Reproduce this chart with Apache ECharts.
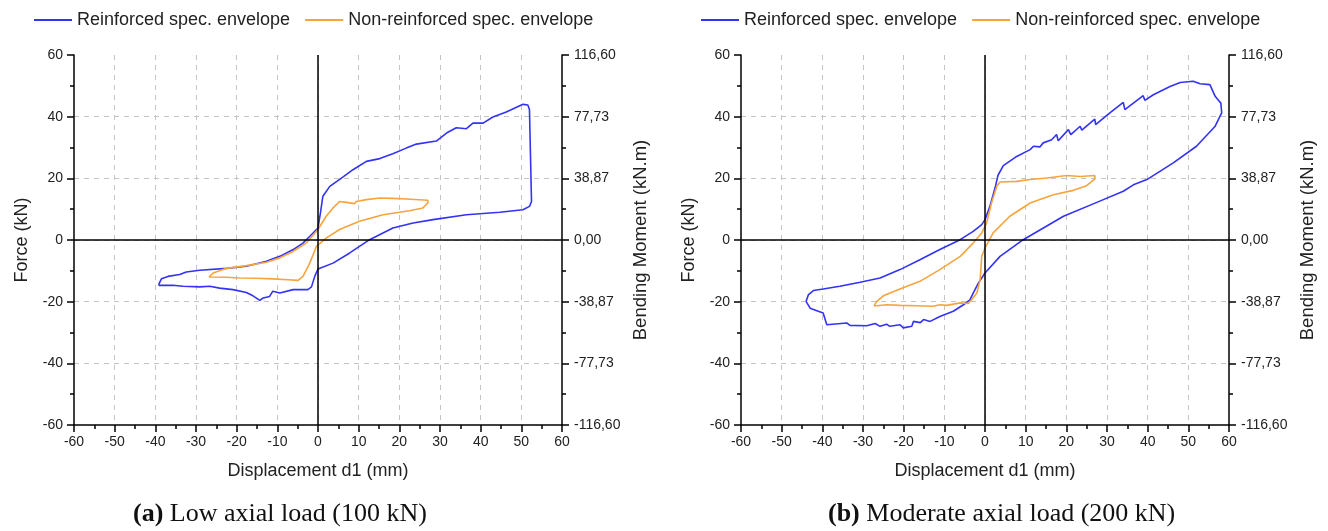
<!DOCTYPE html>
<html>
<head>
<meta charset="utf-8">
<script src="https://cdn.jsdelivr.net/npm/echarts@6/dist/echarts.min.js"></script>
<style>html,body{margin:0;padding:0;background:#fff}#c{width:1328px;height:531px}</style>
</head>
<body>
<div id="c"></div>
<script>
// ---- data (displacement mm, force kN) ----
const seriesNames = ['Reinforced spec. envelope', 'Non-reinforced spec. envelope'];
const xTicks = [-60, -50, -40, -30, -20, -10, 0, 10, 20, 30, 40, 50, 60];
const forceTicks = [-60, -40, -20, 0, 20, 40, 60];
const momentLabels = ['-116,60', '-77,73', '-38,87', '0,00', '38,87', '77,73', '116,60'];
const captions = [['(a)', ' Low axial load (100 kN)'], ['(b)', ' Moderate axial load (200 kN)']];

const lowReinforced = [[-39.1,-14.2],[-38.5,-12.6],[-36.9,-11.8],[-34,-11.2],[-32.4,-10.4],[-29.1,-9.8],[-22.5,-9.2],[-17.6,-8.5],[-12.7,-6.9],[-9.4,-5.3],[-6.1,-3.1],[-3.7,-1.0],[-2.0,1.2],[0,3.9],[0.6,8.8],[1.2,14.2],[2.9,17.4],[6.1,20.4],[8.6,22.8],[11.9,25.5],[15.2,26.4],[18.4,28],[21.7,29.8],[24.2,31.1],[29.1,32.1],[31.6,34.7],[34,36.4],[36.5,36.1],[38.1,37.9],[40.6,37.9],[43,39.9],[46.3,41.5],[50.4,44],[51.6,43.8],[52,42.3],[52.2,30.4],[52.5,12.5],[52,10.9],[50.4,9.8],[44.7,9.0],[36.5,8.2],[28.3,6.6],[23.4,5.5],[18.4,3.9],[12.7,0.1],[7.8,-4.2],[3.7,-7.5],[0,-9.4],[-0.8,-11.8],[-1.6,-15.2],[-2.5,-16.1],[-2.9,-15.9],[-6.1,-16.1],[-9.4,-17.2],[-11.1,-16.6],[-11.9,-18.3],[-13.5,-18.8],[-14.3,-19.6],[-16,-18.1],[-17.6,-17],[-20.9,-16.1],[-24.2,-15.6],[-26.6,-15],[-29.1,-15.2],[-33.2,-15],[-35.7,-14.7],[-39.1,-14.7],[-39.1,-14.2]];

const lowNonReinforced = [[-26.8,-12.0],[-25.8,-10.7],[-22.5,-9.2],[-17.6,-8.3],[-12.7,-7.2],[-9.4,-5.8],[-6.1,-3.7],[-2.9,-1],[0,3.4],[2,7.7],[3.7,10.4],[5.3,12.5],[7,12.2],[9,11.8],[9.4,12.5],[11.9,13.1],[15.2,13.6],[18.4,13.5],[21.7,13.3],[27,12.9],[27,12],[25.8,10.4],[22.5,9.5],[16,8.2],[10.2,6.1],[5.3,3.4],[2,0.6],[-0.4,-2.1],[-1.2,-4.8],[-2.2,-8],[-3.7,-11.8],[-4.9,-13.1],[-7.4,-12.9],[-11.1,-12.6],[-15.2,-12.4],[-19.3,-12.3],[-22.5,-12.1],[-26.8,-12.0]];

const modReinforced = [[-44,-19.9],[-43.4,-17.7],[-42.2,-16.4],[-39.8,-15.9],[-35.7,-15],[-30.7,-13.7],[-25.8,-12.3],[-20.9,-9.6],[-16,-6.4],[-11.1,-3.1],[-6.1,0.1],[-2.9,2.8],[-0.8,5],[0,6.6],[1.2,10.9],[2.5,17],[3.2,21],[4.5,24.1],[7.8,27.1],[11.1,29.3],[11.9,30.4],[13.5,30.2],[14.3,31.5],[16.4,32.5],[17.6,34.2],[18,32.2],[20.5,35.8],[21.1,34.2],[23.4,36.9],[23.8,35.6],[27,39.2],[27.2,37.4],[30.7,41.2],[34,44.6],[34.4,42.3],[38.9,46.8],[39.3,45.3],[41.4,47.1],[45.5,49.8],[48,51.1],[51.2,51.5],[52.9,50.7],[55.3,50.4],[56.6,46.6],[57.4,45.3],[58,44.4],[58.2,41.2],[56.6,36.9],[52,30.4],[46.3,25],[39.8,19.6],[36.5,17.9],[34,15.8],[27.5,12.2],[19.3,7.7],[9.4,0.1],[3.7,-5.3],[0,-10.7],[-1.6,-13.9],[-2.9,-17.2],[-3.7,-19.4],[-5.3,-21],[-7.8,-23.1],[-11.1,-24.8],[-13.5,-26.4],[-15.1,-25.8],[-15.9,-26.8],[-17.6,-26.4],[-18,-28],[-20.1,-28.5],[-20.9,-27.5],[-23.4,-28],[-24.2,-27.3],[-25.8,-28],[-27,-27.1],[-29.1,-27.8],[-33.2,-27.7],[-34,-26.9],[-38.9,-27.5],[-39.8,-23.7],[-41,-23.1],[-43,-22.1],[-44,-19.9]];

const modNonReinforced = [[-27.3,-21.3],[-26.6,-19.9],[-25,-18.1],[-20.9,-15.9],[-16,-13.4],[-11.1,-9.6],[-6.1,-5.3],[-2.9,-1],[-0.8,2.3],[0.4,5.5],[1.6,12],[2.9,17.4],[3.7,18.8],[4.1,19],[7.8,19],[8.2,18.7],[11.1,19.6],[15.2,20.1],[20.1,20.9],[23.4,20.6],[27,20.9],[27,19.8],[25,17.6],[21.7,16.1],[16.8,14.7],[11.1,12],[6.1,7.7],[2,2.3],[0,-2.6],[-0.8,-5.3],[-1.2,-12.9],[-2,-17.2],[-3.3,-19.4],[-4.1,-20.6],[-6.1,-20.4],[-9.4,-21.2],[-11.1,-21],[-12.7,-21.5],[-16.8,-21.3],[-20.9,-21.2],[-24.2,-21],[-26.6,-21.3],[-27.3,-21.3]];

// ---- styling / layout ----
const BLUE = '#3333f5', ORANGE = '#f7a43c';
const SANS = 'Liberation Sans, Arial, sans-serif';
const SERIF = 'Liberation Serif, Times New Roman, serif';
const grids = [{left: 74, top: 55, width: 488, height: 370}, {left: 741, top: 55, width: 488, height: 370}];

function xAxisFor(i) {
  return {
    type: 'value', gridIndex: i, min: xTicks[0], max: xTicks[xTicks.length - 1], interval: 10,
    name: 'Displacement d1 (mm)', nameLocation: 'middle', nameGap: 37,
    nameTextStyle: {fontFamily: SANS, fontSize: 18, color: '#222'},
    axisLine: {show: true, onZero: false, lineStyle: {color: '#000', width: 1.5}},
    axisTick: {show: true, inside: false, length: 7, lineStyle: {color: '#000', width: 1.5}},
    minorTick: {show: true, splitNumber: 2, length: 4, lineStyle: {color: '#000', width: 1.5}},
    axisLabel: {fontFamily: SANS, fontSize: 14, color: '#222', margin: 10},
    splitLine: {show: true, showMinLine: false, showMaxLine: false, lineStyle: {color: '#c4c4c4', type: [5, 5], width: 1}}
  };
}
function forceAxisFor(i) {
  return {
    type: 'value', gridIndex: i, position: 'left', min: forceTicks[0], max: forceTicks[forceTicks.length - 1], interval: 20,
    name: 'Force (kN)', nameLocation: 'middle', nameGap: 43,
    nameTextStyle: {fontFamily: SANS, fontSize: 18, color: '#222'},
    axisLine: {show: true, onZero: false, lineStyle: {color: '#000', width: 1.5}},
    axisTick: {show: true, length: 7, lineStyle: {color: '#000', width: 1.5}},
    minorTick: {show: true, splitNumber: 2, length: 4, lineStyle: {color: '#000', width: 1.5}},
    axisLabel: {fontFamily: SANS, fontSize: 14, color: '#222', margin: 11},
    splitLine: {show: true, showMinLine: false, showMaxLine: false, lineStyle: {color: '#c4c4c4', type: [5, 5], width: 1}}
  };
}
function momentAxisFor(i) {
  return {
    type: 'value', gridIndex: i, position: 'right', min: forceTicks[0], max: forceTicks[forceTicks.length - 1], interval: 20,
    name: 'Bending Moment (kN.m)', nameLocation: 'middle', nameGap: 69, nameRotate: 90,
    nameTextStyle: {fontFamily: SANS, fontSize: 18.5, color: '#222'},
    axisLine: {show: true, onZero: false, lineStyle: {color: '#000', width: 1.5}},
    axisTick: {show: true, length: 7, lineStyle: {color: '#000', width: 1.5}},
    minorTick: {show: true, splitNumber: 2, length: 4, lineStyle: {color: '#000', width: 1.5}},
    axisLabel: {fontFamily: SANS, fontSize: 14, color: '#222', margin: 12,
      formatter: v => momentLabels[forceTicks.indexOf(Math.round(v))] || ''},
    splitLine: {show: false}
  };
}
function crossSeries(i) {
  return {
    type: 'line', name: 'axes' + i, xAxisIndex: i, yAxisIndex: i * 2, data: [[0, 0]], symbol: 'none', silent: true, z: 1,
    lineStyle: {opacity: 0},
    markLine: {silent: true, symbol: 'none', label: {show: false},
      lineStyle: {color: '#000', width: 1.5, type: 'solid'},
      data: [{xAxis: 0}, {yAxis: 0}]}
  };
}
function curve(name, data, color, i) {
  return {type: 'line', name: name, xAxisIndex: i, yAxisIndex: i * 2, data: data, symbol: 'none',
    smooth: false, z: 3, lineStyle: {color: color, width: 1.6}, itemStyle: {color: color}};
}
function legendFor(left) {
  return {left: left, top: 6, icon: 'rect', itemWidth: 38, itemHeight: 2, itemGap: 15,
    data: seriesNames, textStyle: {fontFamily: SANS, fontSize: 18, color: '#222'}};
}
function caption(i, cx) {
  return {type: 'text', left: cx, top: 501,
    style: {text: '{b|' + captions[i][0] + '}' + captions[i][1], fontFamily: SERIF, fontSize: 26, fill: '#111',
      rich: {b: {fontFamily: SERIF, fontSize: 26, fontWeight: 'bold', fill: '#111'}}}};
}

const chart = echarts.init(document.getElementById('c'), null, {renderer: 'canvas'});
chart.setOption({
  animation: false,
  backgroundColor: '#fff',
  grid: grids,
  legend: [legendFor(29), legendFor(696)],
  xAxis: [xAxisFor(0), xAxisFor(1)],
  yAxis: [forceAxisFor(0), momentAxisFor(0), forceAxisFor(1), momentAxisFor(1)],
  series: [
    crossSeries(0), crossSeries(1),
    curve(seriesNames[0], lowReinforced, BLUE, 0),
    curve(seriesNames[1], lowNonReinforced, ORANGE, 0),
    curve(seriesNames[0], modReinforced, BLUE, 1),
    curve(seriesNames[1], modNonReinforced, ORANGE, 1)
  ],
  graphic: [caption(0, 133), caption(1, 828)]
});
</script>
</body>
</html>
